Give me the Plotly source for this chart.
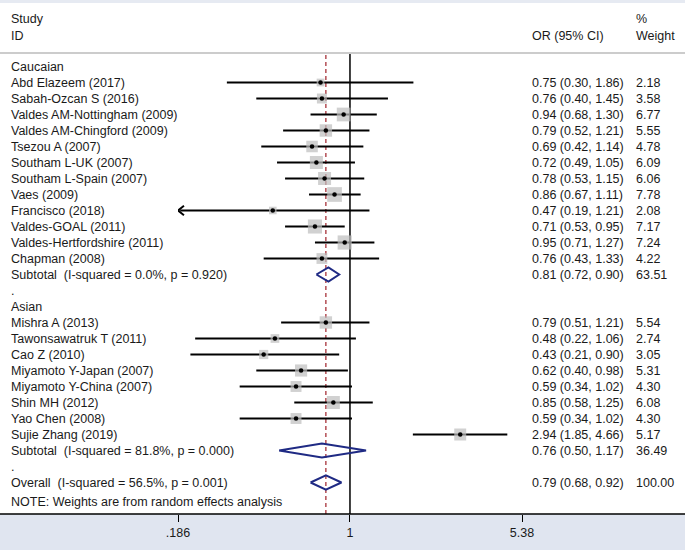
import math
import plotly.graph_objects as go

# ---------------- data ----------------
cau_names = ["Abd Elazeem (2017)", "Sabah-Ozcan S (2016)", "Valdes AM-Nottingham (2009)",
             "Valdes AM-Chingford (2009)", "Tsezou A (2007)", "Southam L-UK (2007)",
             "Southam L-Spain (2007)", "Vaes (2009)", "Francisco (2018)", "Valdes-GOAL (2011)",
             "Valdes-Hertfordshire (2011)", "Chapman (2008)"]
cau_or = [0.75, 0.76, 0.94, 0.79, 0.69, 0.72, 0.78, 0.86, 0.47, 0.71, 0.95, 0.76]
cau_lo = [0.30, 0.40, 0.68, 0.52, 0.42, 0.49, 0.53, 0.67, 0.19, 0.53, 0.71, 0.43]
cau_hi = [1.86, 1.45, 1.30, 1.21, 1.14, 1.05, 1.15, 1.11, 1.21, 0.95, 1.27, 1.33]
cau_w = [2.18, 3.58, 6.77, 5.55, 4.78, 6.09, 6.06, 7.78, 2.08, 7.17, 7.24, 4.22]

asi_names = ["Mishra A (2013)", "Tawonsawatruk T (2011)", "Cao Z (2010)",
             "Miyamoto Y-Japan (2007)", "Miyamoto Y-China (2007)", "Shin MH (2012)",
             "Yao Chen (2008)", "Sujie Zhang (2019)"]
asi_or = [0.79, 0.48, 0.43, 0.62, 0.59, 0.85, 0.59, 2.94]
asi_lo = [0.51, 0.22, 0.21, 0.40, 0.34, 0.58, 0.34, 1.85]
asi_hi = [1.21, 1.06, 0.90, 0.98, 1.02, 1.25, 1.02, 4.66]
asi_w = [5.54, 2.74, 3.05, 5.31, 4.30, 6.08, 4.30, 5.17]

sub_labels = ["Subtotal  (I-squared = 0.0%, p = 0.920)",
              "Subtotal  (I-squared = 81.8%, p = 0.000)"]
sub_or = [0.81, 0.76]
sub_lo = [0.72, 0.50]
sub_hi = [0.90, 1.17]
sub_w = [63.51, 36.49]

overall_label = "Overall  (I-squared = 56.5%, p = 0.001)"
overall_or, overall_lo, overall_hi, overall_w = 0.79, 0.68, 0.92, 100.00

group_names = ["Caucaian", "Asian"]
tick_vals = [0.186, 1, 5.38]
tick_text = [".186", "1", "5.38"]
note_text = "NOTE: Weights are from random effects analysis"

# ---------------- layout constants ----------------
W, H = 685, 552
XMIN, XMAX = 0.186, 5.38
ROW0_PX, ROW_PX = 66.5, 16.0
TOP_PX, BOT_PX = 53.0, 514.0
X_L_PX, X_R_PX = 178.0, 522.0
TXT = "#1a1a1a"
NAVY = "#1f2a84"
FONT = "Liberation Sans, Arial, sans-serif"
FS = 12.5

def py(px):
    return 1 - px / H

def fmt(o, l, h):
    return f"{o:.2f} ({l:.2f}, {h:.2f})"

# rows
rows = []  # (label, kind, or, lo, hi, w, row)
r = 0
groups = [(group_names[0], cau_names, cau_or, cau_lo, cau_hi, cau_w),
          (group_names[1], asi_names, asi_or, asi_lo, asi_hi, asi_w)]
for gi, (gname, ns, os_, ls, hs, ws) in enumerate(groups):
    rows.append((gname, "head", None, None, None, None, r)); r += 1
    for n, o, l, h, w in zip(ns, os_, ls, hs, ws):
        rows.append((n, "study", o, l, h, w, r)); r += 1
    rows.append((sub_labels[gi], "sub", sub_or[gi], sub_lo[gi], sub_hi[gi], sub_w[gi], r)); r += 1
    rows.append((".", "dot", None, None, None, None, r)); r += 1
rows.append((overall_label, "sub", overall_or, overall_lo, overall_hi, overall_w, r))
note_row = r + 1.2

fig = go.Figure()

# CI lines
cx, cy = [], []
arrows_x, arrows_y = [], []
for lab, kind, o, l, h, w, rr in rows:
    if kind != "study":
        continue
    lo_d = max(l, XMIN)
    cx += [lo_d, h, None]
    cy += [rr, rr, None]
    if l < XMIN * 1.05:
        k = 1.06
        arrows_x += [XMIN * k, XMIN, XMIN * k, None]
        arrows_y += [rr - 0.3, rr, rr + 0.3, None]

fig.add_trace(go.Scatter(x=cx, y=cy, mode="lines", line=dict(color="black", width=2),
                         hoverinfo="skip", showlegend=False))
fig.add_trace(go.Scatter(x=arrows_x, y=arrows_y, mode="lines", line=dict(color="black", width=2),
                         hoverinfo="skip", showlegend=False))

# boxes
st = [row for row in rows if row[1] == "study"]
fig.add_trace(go.Scatter(x=[s[2] for s in st], y=[s[6] for s in st], mode="markers",
                         marker=dict(symbol="square", color="#bdbdbd",
                                     size=[5.27 * math.sqrt(s[5]) for s in st], line=dict(width=0)),
                         showlegend=False))
fig.add_trace(go.Scatter(x=[s[2] for s in st], y=[s[6] for s in st], mode="markers",
                         marker=dict(symbol="circle", color="black", size=4.5),
                         showlegend=False))

# diamonds
dx, dy = [], []
for lab, kind, o, l, h, w, rr in rows:
    if kind != "sub":
        continue
    dx += [l, o, h, o, l, None]
    dy += [rr, rr - 0.44, rr, rr + 0.44, rr, None]
fig.add_trace(go.Scatter(x=dx, y=dy, mode="lines", line=dict(color=NAVY, width=2),
                         hoverinfo="skip", showlegend=False))

ann = []
def add_text(x, y, text, xref="paper", yref="y", xanchor="left"):
    ann.append(dict(x=x, y=y, xref=xref, yref=yref, text=text.replace("  ", " \u00a0"),
                    showarrow=False, xanchor=xanchor, yanchor="middle",
                    font=dict(family=FONT, size=FS, color=TXT)))

for lab, kind, o, l, h, w, rr in rows:
    add_text(9 / W, rr, lab)
    if o is not None:
        add_text(530 / W, rr, fmt(o, l, h))
        add_text(634 / W, rr, f"{w:.2f}")
add_text(9 / W, note_row, note_text)

# headers
add_text(9 / W, py(19), "Study", yref="paper")
add_text(9 / W, py(36), "ID", yref="paper")
add_text(530 / W, py(36), "OR (95% CI)", yref="paper")
add_text(634 / W, py(19), "%", yref="paper")
add_text(634 / W, py(36), "Weight", yref="paper")

shapes = [
    # bands
    dict(type="rect", xref="paper", yref="paper", x0=0, x1=1, y0=py(3), y1=1,
         fillcolor="#e6eaf2", line=dict(width=0), layer="below"),
    dict(type="rect", xref="paper", yref="paper", x0=0, x1=1, y0=py(550), y1=py(BOT_PX),
         fillcolor="#e0e5f0", line=dict(width=0), layer="below"),
    # header separator
    dict(type="line", xref="paper", yref="paper", x0=0, x1=1, y0=py(53), y1=py(53),
         line=dict(color="#cccccc", width=2)),
    # bottom axis line
    dict(type="line", xref="paper", yref="paper", x0=0, x1=1, y0=py(BOT_PX), y1=py(BOT_PX),
         line=dict(color="black", width=1.5)),
    # null line
    dict(type="line", xref="x", yref="y domain", x0=1, x1=1, y0=0, y1=1,
         line=dict(color="black", width=1.5), layer="below"),
    # overall line
    dict(type="line", xref="x", yref="y domain", x0=overall_or, x1=overall_or, y0=0, y1=1,
         line=dict(color="#a8323a", width=1.3, dash="4px,3px"), layer="below"),
]

y_top = (TOP_PX - ROW0_PX) / ROW_PX
y_bot = (BOT_PX - ROW0_PX) / ROW_PX

fig.update_layout(
    template="none",
    width=W, height=H, margin=dict(l=0, r=0, t=0, b=0, pad=0, autoexpand=False),
    paper_bgcolor="white", plot_bgcolor="rgba(0,0,0,0)",
    annotations=ann, shapes=shapes, showlegend=False,
    xaxis=dict(type="log", range=[math.log10(XMIN), math.log10(XMAX)],
               domain=[X_L_PX / W, X_R_PX / W], tickvals=tick_vals, ticktext=tick_text,
               ticks="outside", ticklen=7, tickwidth=1, tickcolor="black",
               showgrid=False, zeroline=False, showline=False, automargin=False,
               tickfont=dict(family=FONT, size=FS, color=TXT)),
    yaxis=dict(range=[y_bot, y_top], domain=[py(BOT_PX), py(TOP_PX)], automargin=False,
               showticklabels=False, ticks="", showgrid=False, zeroline=False, showline=False),
)

fig.write_html("out.html", config={"displayModeBar": False},
               post_script="document.body.style.margin='0px';document.body.style.overflow='hidden';")
